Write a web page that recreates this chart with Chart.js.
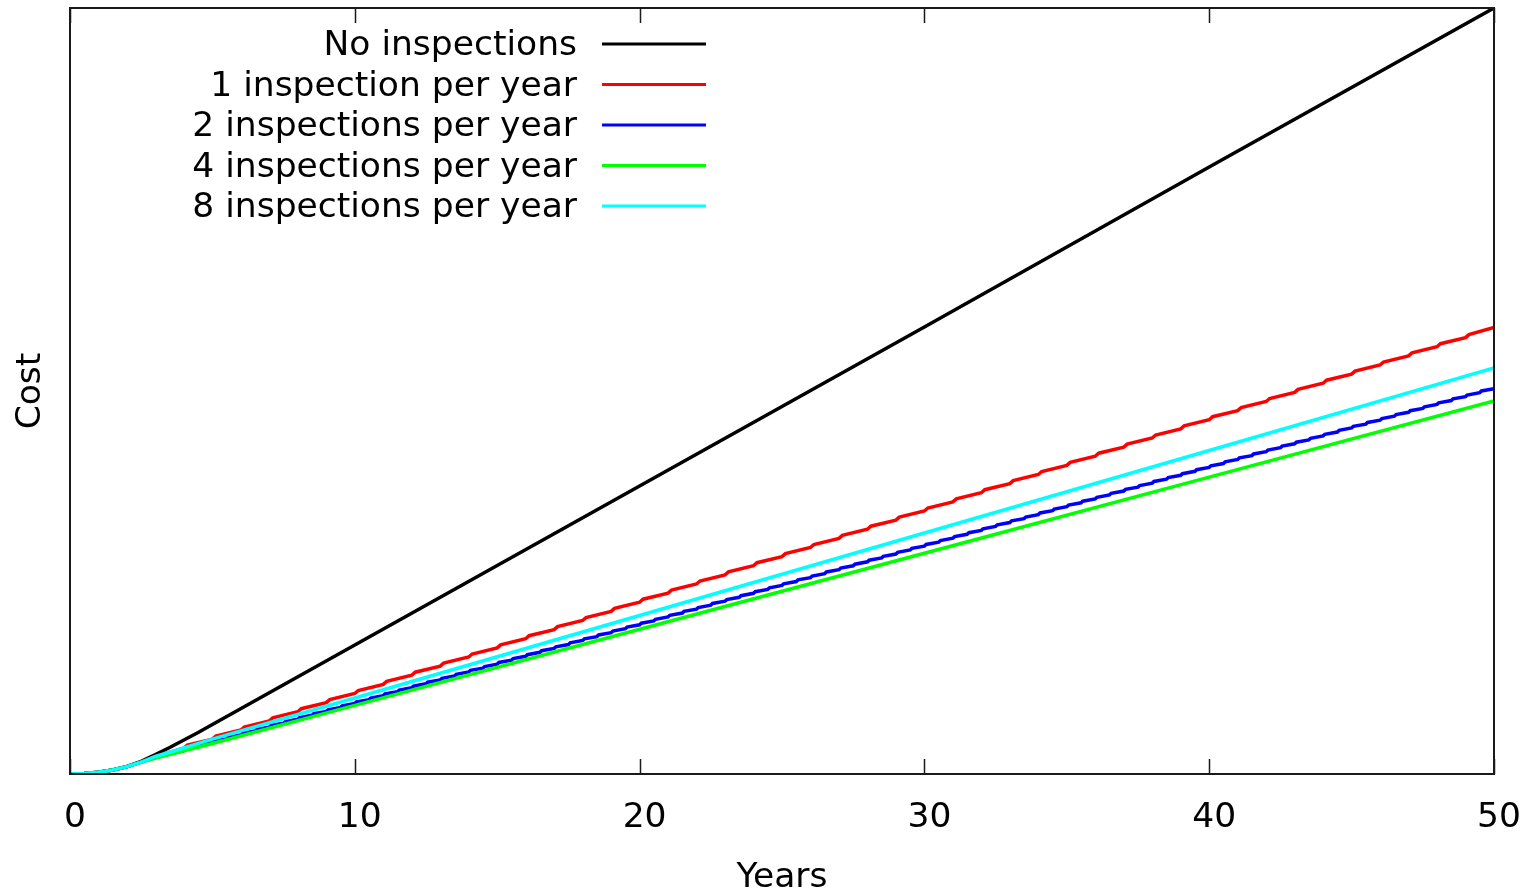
<!DOCTYPE html>
<html><head><meta charset="utf-8">
<script src="https://cdn.jsdelivr.net/npm/chart.js@4.4.0/dist/chart.umd.min.js"></script>
<style>html,body{margin:0;padding:0;background:#fff;overflow:hidden}</style>
</head><body>
<canvas id="c" width="1534" height="890" style="display:block;width:1534px;height:890px"></canvas>
<script>
// ---- data (cost in arbitrary units) ----
const seriesLabels = ['No inspections','1 inspection per year','2 inspections per year','4 inspections per year','8 inspections per year'];
const seriesColors = ['#000000','#ff0000','#0000ff','#00ff00','#00ffff'];
const xTicks = [0,10,20,30,40,50];

const costNone = [[0,0],[0.5,0.4],[1,1.7],[1.5,4],[2,7.5],[2.5,12.6],[3,19.5],[3.5,26.5],[4,34],[4.5,41.5],[5,49.5],[10,129],[20,288],[30,447],[40,607],[50,766]];

const costOne = [[0,0],[0.5,0.4],[1,1.7],[1.5,4],[2,7.4],[2.5,11.8],[3,17.5],
 [4,25.8],[4.12,28.8],[5,34.9],[5.12,37.9],[6,44.0],[6.12,47.0],[7,53.1],[7.12,56.1],
 [8,62.3],[8.12,65.3],[9,71.4],[9.12,74.4],[10,80.5],[10.12,83.5],[11,89.6],[11.12,92.6],
 [12,98.8],[12.12,101.8],[13,107.9],[13.12,110.9],[14,117.0],[14.12,120.0],[15,126.1],[15.12,129.1],
 [16,135.3],[16.12,138.3],[17,144.4],[17.12,147.4],[18,153.5],[18.12,156.5],[19,162.6],[19.12,165.6],
 [20,171.8],[20.12,174.8],[21,180.9],[21.12,183.9],[22,190.0],[22.12,193.0],[23,199.1],[23.12,202.1],
 [24,208.3],[24.12,211.3],[25,217.4],[25.12,220.4],[26,226.5],[26.12,229.5],[27,235.6],[27.12,238.6],
 [28,244.8],[28.12,247.8],[29,253.9],[29.12,256.9],[30,263.0],[30.12,266.0],[31,272.1],[31.12,275.1],
 [32,281.3],[32.12,284.3],[33,290.4],[33.12,293.4],[34,299.5],[34.12,302.5],[35,308.6],[35.12,311.6],
 [36,317.8],[36.12,320.8],[37,326.9],[37.12,329.9],[38,336.0],[38.12,339.0],[39,345.1],[39.12,348.1],
 [40,354.3],[40.12,357.3],[41,363.4],[41.12,366.4],[42,372.5],[42.12,375.5],[43,381.6],[43.12,384.6],
 [44,390.8],[44.12,393.8],[45,399.9],[45.12,402.9],[46,409.0],[46.12,412.0],[47,418.1],[47.12,421.1],
 [48,427.3],[48.12,430.3],[49,436.4],[49.12,439.4],[50,446.5]];

const costTwo = [[0,0],[0.5,0.4],[1,1.7],[1.5,4],[2,7.4],[2.5,11.8],[3,16.5],
 [4,23.3],[4.06,24.9],[4.5,27.2],[4.56,28.8],[5,31.2],[5.06,32.8],[5.5,35.1],[5.56,36.7],
 [6,39.0],[6.06,40.6],[6.5,43.0],[6.56,44.6],[7,46.9],[7.06,48.5],[7.5,50.8],[7.56,52.4],
 [8,54.8],[8.06,56.4],[8.5,58.7],[8.56,60.3],[9,62.6],[9.06,64.2],[9.5,66.6],[9.56,68.2],
 [10,70.5],[10.06,72.1],[10.5,74.4],[10.56,76.0],[11,78.4],[11.06,80.0],[11.5,82.3],[11.56,83.9],
 [12,86.2],[12.06,87.8],[12.5,90.2],[12.56,91.8],[13,94.1],[13.06,95.7],[13.5,98.0],[13.56,99.6],
 [14,102.0],[14.06,103.6],[14.5,105.9],[14.56,107.5],[15,109.9],[15.06,111.5],[15.5,113.8],[15.56,115.4],
 [16,117.7],[16.06,119.3],[16.5,121.7],[16.56,123.3],[17,125.6],[17.06,127.2],[17.5,129.5],[17.56,131.1],
 [18,133.5],[18.06,135.1],[18.5,137.4],[18.56,139.0],[19,141.3],[19.06,142.9],[19.5,145.3],[19.56,146.9],
 [20,149.2],[20.06,150.8],[20.5,153.1],[20.56,154.7],[21,157.1],[21.06,158.7],[21.5,161.0],[21.56,162.6],
 [22,164.9],[22.06,166.5],[22.5,168.9],[22.56,170.5],[23,172.8],[23.06,174.4],[23.5,176.7],[23.56,178.3],
 [24,180.7],[24.06,182.3],[24.5,184.6],[24.56,186.2],[25,188.6],[25.06,190.2],[25.5,192.5],[25.56,194.1],
 [26,196.4],[26.06,198.0],[26.5,200.4],[26.56,202.0],[27,204.3],[27.06,205.9],[27.5,208.2],[27.56,209.8],
 [28,212.2],[28.06,213.8],[28.5,216.1],[28.56,217.7],[29,220.0],[29.06,221.6],[29.5,224.0],[29.56,225.6],
 [30,227.9],[30.06,229.5],[30.5,231.8],[30.56,233.4],[31,235.8],[31.06,237.4],[31.5,239.7],[31.56,241.3],
 [32,243.6],[32.06,245.2],[32.5,247.6],[32.56,249.2],[33,251.5],[33.06,253.1],[33.5,255.4],[33.56,257.0],
 [34,259.4],[34.06,261.0],[34.5,263.3],[34.56,264.9],[35,267.3],[35.06,268.9],[35.5,271.2],[35.56,272.8],
 [36,275.1],[36.06,276.7],[36.5,279.1],[36.56,280.7],[37,283.0],[37.06,284.6],[37.5,286.9],[37.56,288.5],
 [38,290.9],[38.06,292.5],[38.5,294.8],[38.56,296.4],[39,298.7],[39.06,300.3],[39.5,302.7],[39.56,304.3],
 [40,306.6],[40.06,308.2],[40.5,310.5],[40.56,312.1],[41,314.5],[41.06,316.1],[41.5,318.4],[41.56,320.0],
 [42,322.3],[42.06,323.9],[42.5,326.3],[42.56,327.9],[43,330.2],[43.06,331.8],[43.5,334.1],[43.56,335.7],
 [44,338.1],[44.06,339.7],[44.5,342.0],[44.56,343.6],[45,346.0],[45.06,347.6],[45.5,349.9],[45.56,351.5],
 [46,353.8],[46.06,355.4],[46.5,357.8],[46.56,359.4],[47,361.7],[47.06,363.3],[47.5,365.6],[47.56,367.2],
 [48,369.6],[48.06,371.2],[48.5,373.5],[48.56,375.1],[49,377.4],[49.06,379.0],[49.5,381.4],[49.56,383.0],
 [50,385.3]];

const costFour = [[0,0],[0.5,0.4],[1,1.7],[1.5,4],[2,7.4],[2.5,11.8],[3,16],[4,23.2],[5,30.5],[10,68.6],[20,144.7],[30,220.8],[40,296.9],[50,373]];
const costEight = [[0,0],[0.5,0.4],[1,1.7],[1.5,4],[2,7.4],[2.5,11.8],[3,17.5],[4,26],[5,34.8],[10,76],[20,158.5],[30,241],[40,323.5],[50,406]];

const seriesData = [costNone, costOne, costTwo, costFour, costEight];

const FONT = 'DejaVu Sans';
const FONT_SIZE = 34.5;

const frameAndTicks = {
  id: 'frameAndTicks',
  afterDatasetsDraw(chart) {
    const {ctx, chartArea: a} = chart;
    const xs = chart.scales.x;
    ctx.save();
    ctx.strokeStyle = '#1a1a1a';
    ctx.lineWidth = 1.5;
    xTicks.forEach(v => {
      const px = Math.round(xs.getPixelForValue(v)) + 0.5;
      ctx.beginPath();
      ctx.moveTo(px, a.bottom); ctx.lineTo(px, a.bottom - 15);
      ctx.moveTo(px, a.top); ctx.lineTo(px, a.top + 15);
      ctx.stroke();
    });
    ctx.lineWidth = 2;
    ctx.strokeRect(a.left, a.top, a.right - a.left, a.bottom - a.top);
    // legend
    ctx.font = FONT_SIZE + 'px "' + FONT + '"';
    ctx.textAlign = 'right';
    ctx.textBaseline = 'alphabetic';
    chart.data.datasets.forEach((ds, i) => {
      const y = 44 + 40.5 * i;
      ctx.fillStyle = '#000';
      ctx.fillText(ds.label, 577, y + 11);
      ctx.strokeStyle = ds.borderColor;
      ctx.lineWidth = 3;
      ctx.beginPath(); ctx.moveTo(602, y); ctx.lineTo(706, y); ctx.stroke();
    });
    ctx.restore();
  }
};

new Chart(document.getElementById('c'), {
  type: 'line',
  data: {
    datasets: seriesData.map((d, i) => ({
      label: seriesLabels[i],
      data: d,
      borderColor: seriesColors[i],
      backgroundColor: seriesColors[i],
      borderWidth: 3.5,
      pointRadius: 0,
      tension: 0,
      fill: false,
      order: 5 - i
    }))
  },
  options: {
    responsive: false,
    animation: false,
    devicePixelRatio: 1,
    layout: {padding: {top: 8, right: 40, left: 0, bottom: 0}},
    plugins: {legend: {display: false}, tooltip: {enabled: false}},
    scales: {
      x: {
        type: 'linear', min: 0, max: 50,
        afterBuildTicks: s => { s.ticks = xTicks.map(v => ({value: v})); },
        grid: {display: false, drawTicks: false},
        border: {display: false},
        ticks: {font: {family: FONT, size: FONT_SIZE}, color: '#000', padding: 23, labelOffset: 5, maxRotation: 0, autoSkip: false},
        title: {display: true, text: 'Years', color: '#000', font: {family: FONT, size: FONT_SIZE, lineHeight: '24px'}, padding: 0},
        afterFit: s => { s.height = 116; s.paddingLeft = 0; s.paddingRight = 0; }
      },
      y: {
        min: 0, max: 766,
        grid: {display: false, drawTicks: false},
        border: {display: false},
        ticks: {display: false},
        title: {display: true, text: 'Cost', color: '#000', font: {family: FONT, size: FONT_SIZE, lineHeight: '30px'}, padding: {top: 16, bottom: 0}},
        afterFit: s => { s.width = 70; }
      }
    }
  },
  plugins: [frameAndTicks]
});
</script>
</body></html>
